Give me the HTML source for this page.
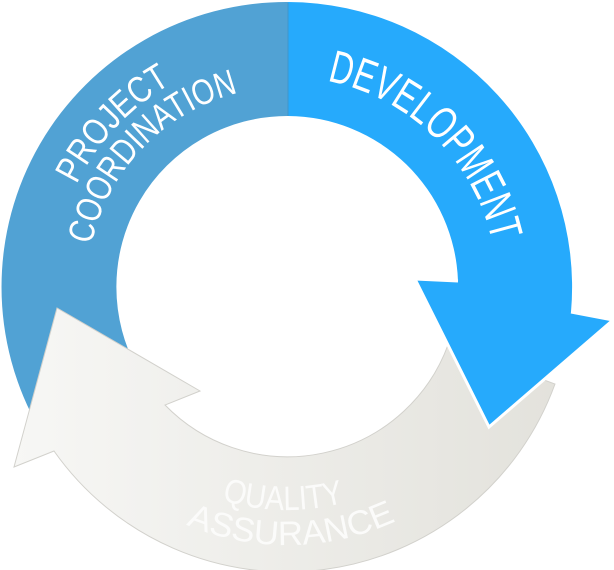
<!DOCTYPE html>
<html><head><meta charset="utf-8"><style>
html,body{margin:0;padding:0;background:#fff;width:614px;height:570px;overflow:hidden}
svg{display:block}
text{font-family:"Liberation Sans",sans-serif;fill:#fff}
</style></head><body>
<svg width="614" height="570" viewBox="0 0 614 570">
<defs>
<linearGradient id="g" x1="0" y1="0" x2="1" y2="0">
<stop offset="0" stop-color="#f7f7f5"/><stop offset="1" stop-color="#e3e2dc"/>
</linearGradient>
<path id="pc" d="M91.4,244.6 A200,200 0 0 1 242,92"/>
<path id="pp" d="M76.6,184.5 A234,234 0 0 1 166.5,86.5"/>
<path id="pd" d="M327.1,80.9 A210,210 0 0 1 491.6,239.8"/>
<path id="pa" d="M186.2,524.5 A258,258 0 0 0 396.1,520.9"/>
<path id="pq" d="M221.8,500.2 A223,223 0 0 0 344.8,502.4"/>
</defs>
<path d="M288,2 A285,285 0 0 0 40,430 L139,372 A171,171 0 0 1 288,116 Z" fill="#51a2d4"/>
<path d="M555,384 A285,285 0 0 1 54,451 L14,467 L57,308 L200,391 L165,405 A171,171 0 0 0 448,345 Z" fill="url(#g)" stroke="#d2d1cc" stroke-width="1"/>
<path d="M288,2 A285,285 0 0 1 571,312 L613,320 L489,427 L415,279 L458,281 A171,171 0 0 0 288,116 Z" fill="#26aafc"/>
<polyline points="571,312 613,320 489,427 415,279 458,281" fill="none" stroke="#fff" stroke-width="3"/>
<line x1="288" y1="3" x2="288" y2="116" stroke="#3f95cc" stroke-width="1"/>
<text font-size="37"><textPath href="#pp" textLength="140" lengthAdjust="spacingAndGlyphs">PROJECT</textPath></text>
<text font-size="36"><textPath href="#pc" textLength="222" lengthAdjust="spacingAndGlyphs">COORDINATION</textPath></text>
<text font-size="46"><textPath href="#pd" textLength="244" lengthAdjust="spacingAndGlyphs">DEVELOPMENT</textPath></text>
<text font-size="34" style="fill:#fbfbfa"><textPath href="#pq" textLength="124" lengthAdjust="spacingAndGlyphs">QUALITY</textPath></text>
<text font-size="34" style="fill:#fbfbfa"><textPath href="#pa" textLength="216" lengthAdjust="spacingAndGlyphs">ASSURANCE</textPath></text>
</svg>
</body></html>
